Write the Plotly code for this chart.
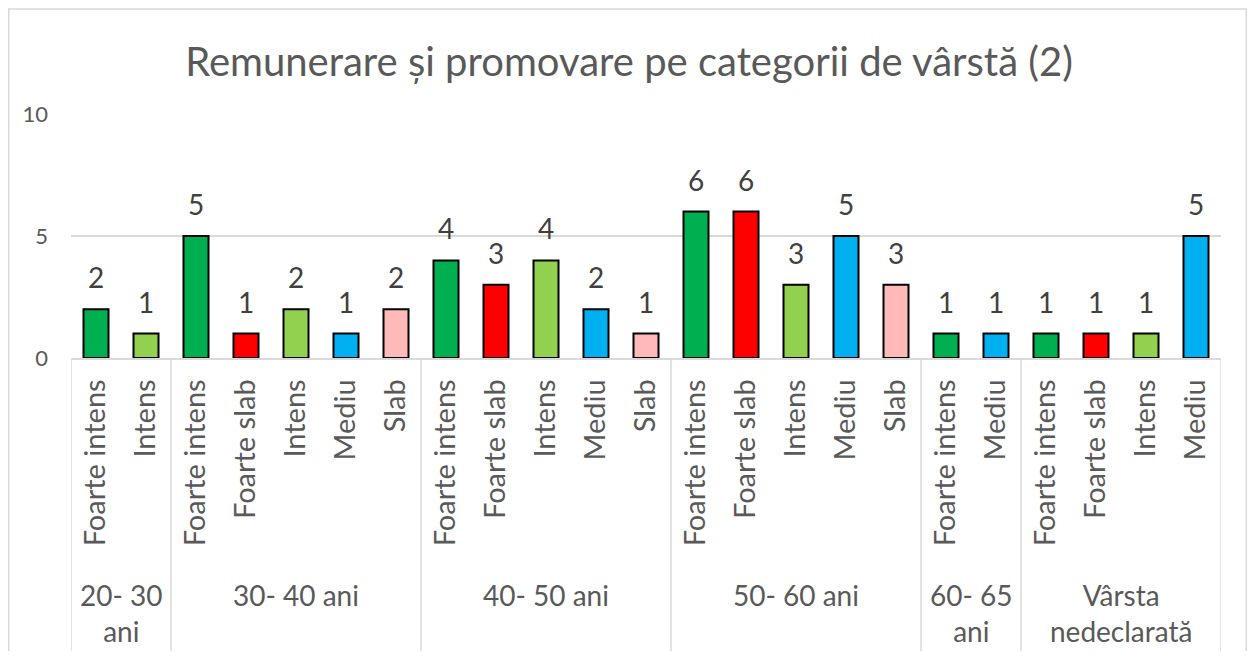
import plotly.graph_objects as go

# ---- data ----
groups = ["20- 30<br>ani", "30- 40 ani", "40- 50 ani", "50- 60 ani", "60- 65<br>ani", "Vârsta<br>nedeclarată"]
group_items = [
    ["Foarte intens", "Intens"],
    ["Foarte intens", "Foarte slab", "Intens", "Mediu", "Slab"],
    ["Foarte intens", "Foarte slab", "Intens", "Mediu", "Slab"],
    ["Foarte intens", "Foarte slab", "Intens", "Mediu", "Slab"],
    ["Foarte intens", "Mediu"],
    ["Foarte intens", "Foarte slab", "Intens", "Mediu"],
]
group_values = [
    [2, 1],
    [5, 1, 2, 1, 2],
    [4, 3, 4, 2, 1],
    [6, 6, 3, 5, 3],
    [1, 1],
    [1, 1, 1, 5],
]
level_colors = {
    "Foarte intens": "#00B050",
    "Intens": "#92D050",
    "Foarte slab": "#FF0000",
    "Mediu": "#00B0F0",
    "Slab": "#FFB9B9",
}
title = "Remunerare și promovare pe categorii de vârstă (2)"
y_ticks = [0, 5, 10]

# ---- flatten ----
labels, values, colors = [], [], []
for items, vals in zip(group_items, group_values):
    for it, v in zip(items, vals):
        labels.append(it)
        values.append(v)
        colors.append(level_colors[it])
xs = list(range(len(labels)))

OFF = 8  # page body margin
W, H = 1239, 643
L, R, T, B = 71 - OFF, 1221 - OFF, 114 - OFF, 358 - OFF  # plot area in figure pixels
def px_x(px):
    return (px - OFF - L) / (R - L)
def px_y(py):
    return (B - (py - OFF)) / (B - T)

TXT = "#595959"
FONT = "Lato, 'Open Sans', sans-serif"

fig = go.Figure()
fig.add_trace(go.Bar(
    x=xs, y=values, width=0.5,
    marker=dict(color=colors, line=dict(color="#000000", width=2)),
    hoverinfo="skip",
))

annotations = []
for x, v in zip(xs, values):
    annotations.append(dict(x=x, y=v, xref="x", yref="y", text=str(v), showarrow=False,
                            yanchor="bottom", yshift=13,
                            font=dict(family=FONT, size=28, color="#404040")))
shapes = []
start = 0
bounds = [-0.5]
for g, items in zip(groups, group_items):
    n = len(items)
    center = start + (n - 1) / 2
    annotations.append(dict(x=center, y=px_y(576), xref="x", yref="paper", text=g, showarrow=False,
                            yanchor="top", font=dict(family=FONT, size=28, color=TXT)))
    start += n
    bounds.append(start - 0.5)
for b in bounds:
    shapes.append(dict(type="line", xref="x", yref="paper", x0=b, x1=b, y0=0, y1=px_y(655),
                       line=dict(color="#D9D9D9", width=1.5)))
shapes.append(dict(type="rect", xref="paper", yref="paper",
                   x0=px_x(OFF + 0.75), x1=px_x(OFF + W - 0.75), y0=px_y(9), y1=px_y(700),
                   line=dict(color="#D9D9D9", width=1.5), fillcolor="rgba(0,0,0,0)", layer="below"))

fig.update_layout(
    width=W, height=H,
    margin=dict(l=L, r=W - R, t=T, b=H - B),
    paper_bgcolor="white", plot_bgcolor="white",
    showlegend=False,
    title=dict(text=title, x=px_x(629), xref="paper", xanchor="center",
               y=1 - (62 - OFF) / H, yanchor="middle",
               font=dict(family=FONT, size=40, color=TXT)),
    xaxis=dict(tickvals=xs, ticktext=labels, tickangle=-90, range=[-0.5, len(xs) - 0.5],
               showgrid=False, zeroline=False, showline=True, linecolor="#D9D9D9", linewidth=1.5,
               ticks="", ticklabelstandoff=8,
               tickfont=dict(family=FONT, size=29, color=TXT)),
    yaxis=dict(range=[0, 10], tickvals=y_ticks, showgrid=True, gridcolor="#D9D9D9", gridwidth=1.5,
               zeroline=False, showline=False, ticks="", ticklabelstandoff=22,
               tickfont=dict(family=FONT, size=22, color=TXT)),
    annotations=annotations, shapes=shapes,
)
fig.write_html("out.html")
